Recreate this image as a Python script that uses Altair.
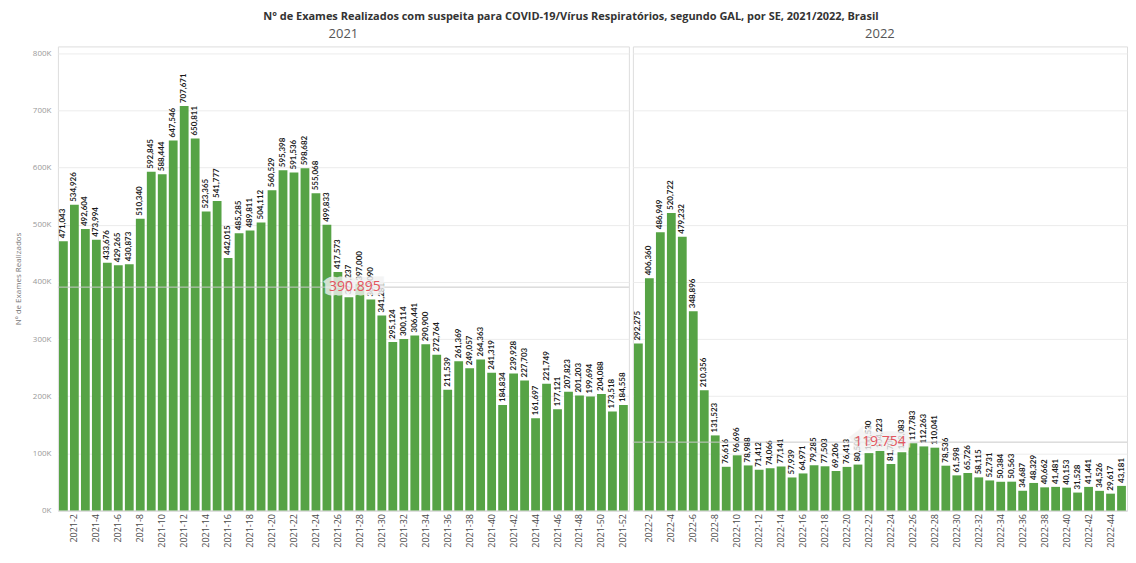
import altair as alt
import pandas as pd

anos = ["2021", "2022"]

v2021 = [471043, 534926, 492604, 473994, 433676, 429265, 430873, 510340, 592845, 588444,
         647546, 707671, 650811, 523365, 541777, 442015, 485285, 489811, 504112, 560529,
         595398, 591536, 598682, 555068, 499833, 417573, 373237, 397000, 369090, 341281,
         295124, 300114, 306441, 290900, 272764, 211539, 261369, 249057, 264363, 241319,
         184834, 239928, 227703, 161697, 221749, 177121, 207823, 201203, 199694, 204088,
         173518, 184558]

v2022 = [292275, 406360, 486949, 520722, 479232, 348896, 210356, 131523, 76616, 96696,
         78988, 71412, 74066, 77141, 57939, 64971, 79285, 77503, 69206, 76413,
         80500, 100530, 104223, 81700, 102083, 117783, 112263, 110041, 78536, 61598,
         65726, 58115, 52731, 50384, 50563, 34687, 48329, 40662, 41481, 40153,
         31528, 41441, 34526, 29617, 43181]

y_ticks = [0, 100000, 200000, 300000, 400000, 500000, 600000, 700000, 800000]

titulo = ("N° de Exames Realizados com suspeita para COVID-19/Vírus Respiratórios, "
          "segundo GAL, por SE, 2021/2022, Brasil")

FONT = "Open Sans"
GREEN = "#56a345"
STEP = 11


def make_panel(ano, vals, first):
    df = pd.DataFrame({
        "sem": list(range(1, len(vals) + 1)),
        "semana": [f"{ano}-{i}" for i in range(1, len(vals) + 1)],
        "valor": vals,
    })
    x_enc = alt.X(
        "semana:N", sort=None, title=None,
        scale=alt.Scale(paddingInner=0.2, paddingOuter=0.1),
        axis=alt.Axis(
            labelAngle=270, labelFontSize=9, labelColor="#4a4a4a", labelFont=FONT,
            labelPadding=3, ticks=False, domain=True, domainColor="#d6d6d6",
            grid=False,
            labelExpr="toNumber(split(datum.value, '-')[1]) % 2 == 0 ? datum.value : ''",
        ),
    )
    y_scale = alt.Scale(domain=[0, 812000], nice=False)
    if first:
        y_axis = alt.Axis(
            values=y_ticks, labelExpr="datum.value / 1000 + 'K'",
            labelFontSize=8, labelColor="#999", labelFont=FONT,
            titleFontSize=8, titleColor="#777", titleFontWeight="normal",
            titleFont=FONT, ticks=False, domain=False, labelPadding=7,
            titlePadding=10, gridColor="#ececec",
        )
        y_title = "Nº de Exames Realizados"
    else:
        y_axis = alt.Axis(values=y_ticks, labels=False, ticks=False, domain=False,
                          gridColor="#ececec", title=None)
        y_title = None

    base = alt.Chart(df)
    bars = base.mark_bar(color=GREEN).encode(
        x=x_enc,
        y=alt.Y("valor:Q", scale=y_scale, title=y_title, axis=y_axis),
    )
    labels = base.mark_text(
        angle=270, align="left", baseline="middle", dx=3, fontSize=8,
        font="Lato", fontWeight="bold", color="#1a1a1a",
    ).encode(
        x=x_enc,
        y=alt.Y("valor:Q", scale=y_scale),
        text=alt.Text("valor:Q", format=","),
    )
    rule = base.mark_rule(color="#c9c9c9", strokeWidth=1).encode(
        y=alt.Y("mean(valor):Q", scale=y_scale),
    )
    mean_base = base.transform_joinaggregate(
        m="mean(valor)", n="count()"
    ).transform_filter(
        "datum.sem == ceil((datum.n + 1) / 2)"
    ).transform_calculate(
        lbl="replace(format(datum.m, ',.0f'), ',', '.')"
    ).encode(
        x=x_enc,
        y=alt.Y("m:Q", scale=y_scale),
        text="lbl:N",
    )
    shift = 6 if first else 0
    halo = mean_base.mark_text(
        fontSize=14, font=FONT, color="#f2f2f2", stroke="#f2f2f2",
        strokeWidth=9, opacity=0.8, baseline="middle", align="center", dx=shift,
    )
    mean_txt = mean_base.mark_text(
        fontSize=14, font=FONT, color="#e4555f", baseline="middle", align="center",
        dx=shift,
    )
    return alt.layer(bars, labels, rule, halo, mean_txt).properties(
        width=STEP * len(vals), height=465,
        title=alt.TitleParams(ano, fontSize=13, color="#555", font=FONT,
                              fontWeight="normal", anchor="middle", offset=5),
    )


p1 = make_panel(anos[0], v2021, True)
p2 = make_panel(anos[1], v2022, False)

chart = alt.hconcat(p1, p2, spacing=2).properties(
    title=alt.TitleParams(titulo, fontSize=11, font=FONT, fontWeight="bold",
                          color="#333", anchor="middle", offset=6),
).configure_view(
    stroke="#d6d6d6"
).configure(
    padding={"left": 5, "top": 2, "right": 0, "bottom": 0}
)

chart.save("out.html", embed_options={"renderer": "svg", "actions": False})
